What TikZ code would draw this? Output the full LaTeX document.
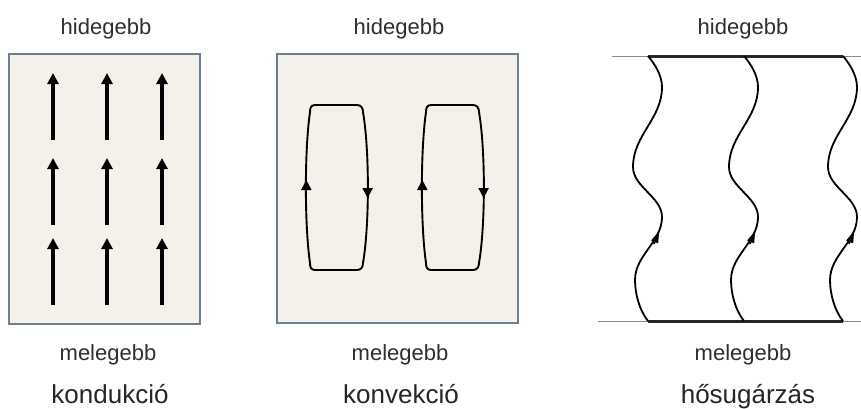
\documentclass[tikz,border=0pt]{standalone}
\usepackage{fontspec}
\setmainfont{Liberation Sans}
\usetikzlibrary{arrows.meta}
\definecolor{boxfill}{HTML}{F3F1EA}
\definecolor{boxedge}{HTML}{6B7F95}
\definecolor{txt}{HTML}{2E2E2E}
\definecolor{rule}{HTML}{8A8A8A}
\begin{document}
\begin{tikzpicture}[x=1pt,y=-1pt,
  panel/.style={draw=boxedge, line width=1.4pt, fill=boxfill},
  flow/.style={line width=3.2pt, -{Triangle[width=11pt,length=11pt]}},
  cell/.style={line width=1.9pt, line join=round},
  ray/.style={line width=1.8pt},
  raytip/.style={line width=1.8pt, -{Triangle[length=12pt,width=7pt]}},
  thinrule/.style={draw=rule, line width=0.9pt},
  thickrule/.style={draw=black!85, line width=3pt},
  lbl/.style={font=\fontsize{22}{26}\selectfont, text=txt, anchor=base, inner sep=0pt},
  ttl/.style={font=\fontsize{26}{30}\selectfont, text=black!85, anchor=base, inner sep=0pt}
]
\useasboundingbox (0,0) rectangle (861,408);

% --- conduction: panel with a grid of upward arrows
\draw[panel] (9,54) rectangle (200,324);
\foreach \cx in {53,107,162}{
  \foreach \yb/\yt in {140/73,225/158,305/238}{
    \draw[flow] (\cx,\yb) -- (\cx,\yt);
  }
}

% --- convection: panel with two circulation cells
\draw[panel] (277,54) rectangle (518,323);
\foreach \sx in {0,116}{
  \begin{scope}[xshift=\sx pt]
    \draw[cell] (315,105) -- (357,105)
      .. controls (361,105) and (363,108) .. (363,112)
      .. controls (369.5,150) and (369.5,225) .. (363,263)
      .. controls (363,267) and (361,270) .. (357,270)
      -- (315,270)
      .. controls (311,270) and (310,267) .. (310,263)
      .. controls (304.5,225) and (304.5,150) .. (310,112)
      .. controls (310,108) and (311,105) .. (315,105) -- cycle;
    % rising flow on the left, sinking flow on the right
    \fill (306.3,180) -- (301,190) -- (311.6,190) -- cycle;
    \fill (367.6,198) -- (362.3,188) -- (372.9,188) -- cycle;
  \end{scope}
}

% --- radiation: two plates joined by wavy rays
\draw[thinrule] (612,56) -- (861,56);
\draw[thinrule] (598,321) -- (861,321);
\draw[thickrule] (648,56) -- (843,56);
\draw[thickrule] (648,321) -- (843,321);
\foreach \sx in {0,96,195}{
  \begin{scope}[xshift=\sx pt]
    \draw[ray] (648,321)
      .. controls (640,311) and (635,295) .. (635,280)
      .. controls (635,255) and (662,242) .. (662,217)
      .. controls (662,197) and (633,187) .. (633,167)
      .. controls (633,135) and (662,119) .. (662,87)
      .. controls (662,75) and (654,63) .. (648,56);
    % direction of travel, laid along the tangent of the rising stretch
    \draw[raytip] (653.9,243.8) -- (659.2,230.8);
  \end{scope}
}

% --- labels
\node[lbl] (cold1) at (106,34) {hidegebb};
\node[lbl] (cold2) at (399,34) {hidegebb};
\node[lbl] (cold3) at (743,34) {hidegebb};
\node[lbl] (warm1) at (108,360) {melegebb};
\node[lbl] (warm2) at (400,360) {melegebb};
\node[lbl] (warm3) at (743,360) {melegebb};
\node[ttl] (name1) at (110,403) {kondukció};
\node[ttl] (name2) at (401,403) {konvekció};
\node[ttl] (name3) at (748,403) {hősugárzás};
\end{tikzpicture}
\end{document}
